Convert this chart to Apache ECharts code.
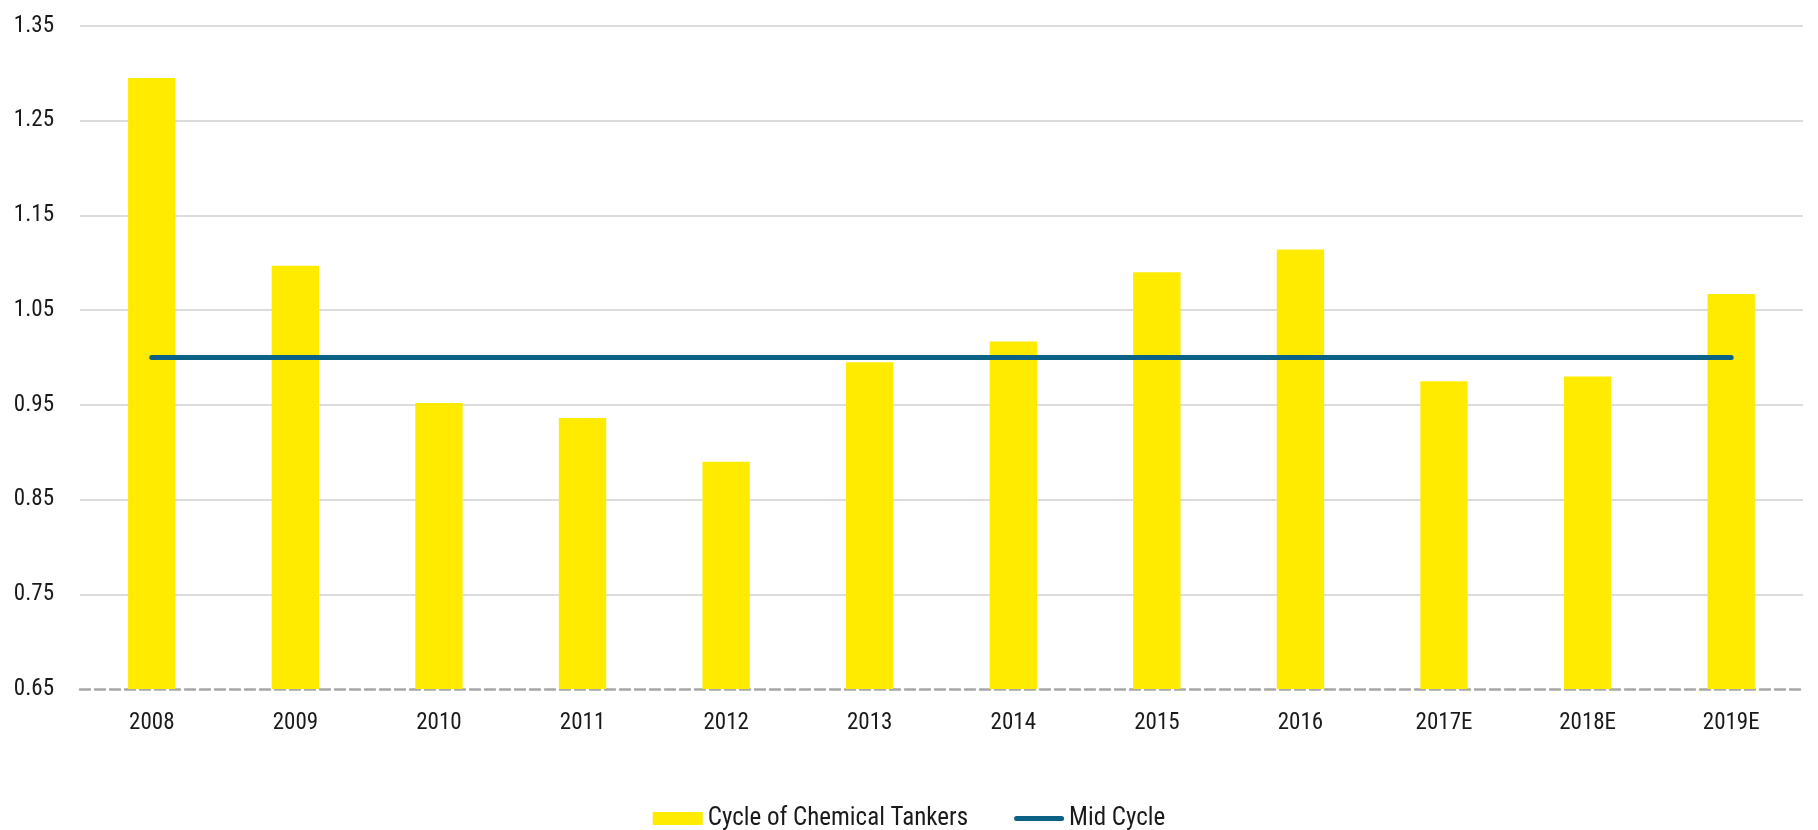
<!DOCTYPE html>
<html>
<head>
<meta charset="utf-8">
<script src="https://cdn.jsdelivr.net/npm/echarts@6/dist/echarts.min.js"></script>
<style>
  html, body { margin: 0; padding: 0; background: #fff; }
  #chart { width: 1818px; height: 830px; }
</style>
</head>
<body>
<div id="chart"></div>
<script>
const years = ['2008', '2009', '2010', '2011', '2012', '2013', '2014', '2015', '2016', '2017E', '2018E', '2019E'];
const cycleValues = [1.295, 1.097, 0.952, 0.936, 0.890, 0.995, 1.017, 1.090, 1.114, 0.975, 0.980, 1.067];
const midCycle = [1, 1, 1, 1, 1, 1, 1, 1, 1, 1, 1, 1];
const yTicks = [0.65, 0.75, 0.85, 0.95, 1.05, 1.15, 1.25, 1.35];

const font = '"Liberation Sans Narrow", "Arial Narrow", "Roboto Condensed", sans-serif';
const lineColor = '#0c6285';

const chart = echarts.init(document.getElementById('chart'));

const option = {
  animation: false,
  textStyle: { fontFamily: font },
  grid: { left: 80, right: 15, top: 26, bottom: 141 },
  legend: {
    top: 801,
    left: 'center',
    itemWidth: 50,
    itemHeight: 13,
    itemGap: 46,
    textStyle: { fontFamily: font, fontSize: 25, color: '#1a1a1a' },
    data: [
      { name: 'Cycle of Chemical Tankers', icon: 'rect' },
      {
        name: 'Mid Cycle',
        icon: 'path://M2.5,0 L47.5,0 A2.5,2.5 0 0 1 47.5,5 L2.5,5 A2.5,2.5 0 0 1 2.5,0 Z',
        itemStyle: { color: lineColor }
      }
    ]
  },
  xAxis: {
    type: 'category',
    data: years,
    axisLine: { lineStyle: { color: '#a6a6a6', width: 2.5, type: [10, 5] } },
    axisTick: { show: false },
    axisLabel: { fontFamily: font, fontSize: 23, color: '#1a1a1a', margin: 23 }
  },
  yAxis: {
    type: 'value',
    min: 0.65,
    max: 1.35,
    axisLine: { show: false },
    axisTick: { show: false, customValues: yTicks },
    axisLabel: {
      fontFamily: font, fontSize: 23, color: '#1a1a1a', margin: 26,
      customValues: yTicks,
      formatter: (v) => v.toFixed(2)
    },
    splitLine: { showMinLine: false, lineStyle: { color: '#d0d0d0', width: 1.5 } }
  },
  series: [
    {
      name: 'Cycle of Chemical Tankers',
      type: 'bar',
      data: cycleValues,
      barWidth: '33%',
      itemStyle: { color: '#ffeb00' }
    },
    {
      name: 'Mid Cycle',
      type: 'line',
      data: midCycle,
      symbol: 'none',
      lineStyle: { color: lineColor, width: 5, cap: 'round' },
      itemStyle: { color: lineColor }
    }
  ]
};

chart.setOption(option);
</script>
</body>
</html>
